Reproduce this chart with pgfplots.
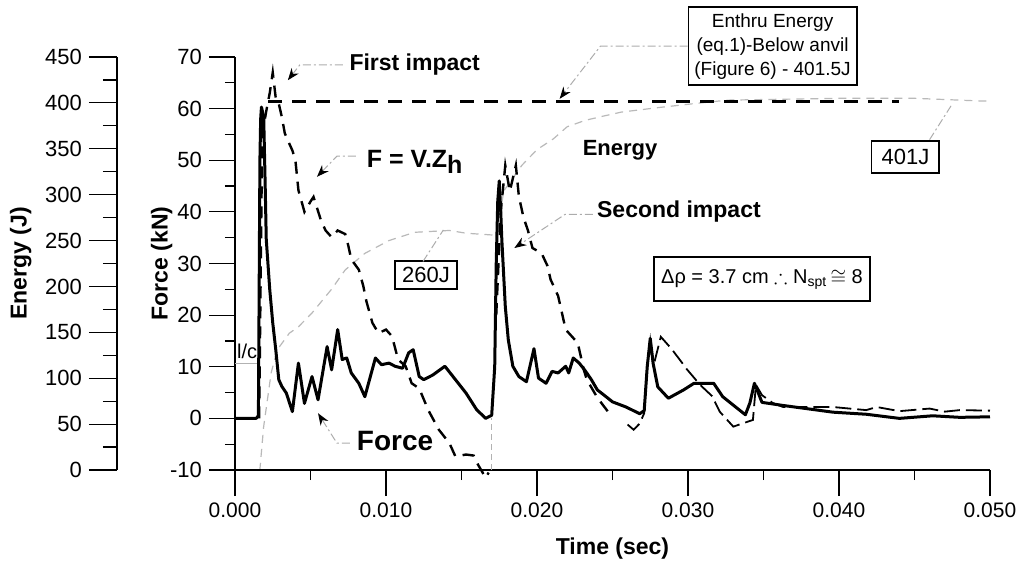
\documentclass[border=0pt]{standalone}
\usepackage{amssymb}
\usepackage{fontspec}
\setmainfont{Liberation Sans}
\usepackage{pgfplots}
\pgfplotsset{compat=1.18}
\usetikzlibrary{arrows.meta,calc}

\tikzset{
  lead/.style={gray!65, line width=0.5pt, dash pattern=on 4pt off 1.5pt on 1pt off 1.5pt},
  tip/.style={-{Stealth[length=6pt,width=4.5pt,color=black]}},
  thin gray/.style={gray!60, line width=0.5pt, dash pattern=on 3pt off 2pt},
}

\begin{document}
\begin{tikzpicture}
% energy scale, drawn on its own axis line to the left
\begin{axis}[name=energy, at={(0pt,0pt)}, anchor=south west,
 scale only axis, width=436.5pt, height=206.5pt,
 xmin=-0.00781, xmax=0.05, ymin=0, ymax=450,
 axis x line=none, axis y line=left, axis line style={-, line width=0.8pt},
 ytick={0,50,100,150,200,250,300,350,400,450}, minor y tick num=1,
 tick align=outside, major tick length=14pt, minor tick length=7pt,
 tick style={black, line width=0.6pt},
 /pgf/number format/assume math mode=true,
 yticklabel style={font=\fontsize{11}{13}\selectfont},
 ylabel={Energy (J)}, ylabel style={font=\fontsize{11.5}{13}\selectfont\bfseries},
 clip=false]
% energy from the velocity record
\addplot[gray!55, line width=0.6pt, dash pattern=on 4pt off 3pt] coordinates {
 (0.0016,0) (0.00165,0) (0.0019,47) (0.0024,106) (0.0028,131) (0.0036,149)
 (0.0042,156) (0.0051,171) (0.0064,197) (0.0073,218) (0.0086,236) (0.0102,250)
 (0.0119,259) (0.0142,261) (0.0153,258) (0.0171,256) (0.0174,262) (0.0178,304)
 (0.0190,332) (0.0200,349) (0.0211,361) (0.0220,374) (0.0232,381) (0.0245,386)
 (0.0256,390) (0.0281,395) (0.0303,399) (0.0326,403) (0.0400,405) (0.0450,405)
 (0.0495,402) (0.0500,402)};
% Enthru energy level
\addplot[black, line width=1.3pt, dash pattern=on 7pt off 5pt] coordinates {(0.0022,401.5) (0.0440,401.5)};
\end{axis}

\begin{axis}[name=force, at={(59pt,0pt)}, anchor=south west,
 scale only axis, width=377.5pt, height=206.5pt,
 xmin=0, xmax=0.05, ymin=-10, ymax=70,
 axis lines=left, axis line style={-, line width=1pt},
 xtick={0,0.01,0.02,0.03,0.04,0.05},
 xticklabels={0.000,0.010,0.020,0.030,0.040,0.050}, scaled x ticks=false,
 minor x tick num=1,
 ytick={-10,0,10,20,30,40,50,60,70}, minor y tick num=1,
 tick align=outside, major tick length=13pt, minor tick length=5pt,
 tick style={black, line width=0.6pt},
 /pgf/number format/assume math mode=true,
 xticklabel style={font=\fontsize{10.5}{12}\selectfont},
 yticklabel style={font=\fontsize{11}{13}\selectfont},
 xlabel={Time (sec)}, ylabel={Force (kN)}, ylabel shift=-8pt, xlabel shift=3pt,
 label style={font=\fontsize{11.5}{13}\selectfont\bfseries},
 clip=false]
% measured force
\addplot[black, line width=1.5pt, line join=round] coordinates {
 (0,0) (0.0014,0) (0.00155,0.5) (0.0016,25) (0.00165,50) (0.0017,58) (0.00175,60.3)
 (0.0019,58.5) (0.0020,45) (0.00207,34.7) (0.0023,25) (0.0025,18.5) (0.0027,13.3)
 (0.0029,7.5) (0.0031,6.2) (0.0034,4.9) (0.0038,1.3) (0.0042,10.7) (0.0046,2.9)
 (0.0051,8.1) (0.0055,3.6) (0.0061,13.9) (0.0064,9.4) (0.0068,17.2) (0.0071,11.4)
 (0.0074,11.7) (0.0077,8.8) (0.0082,6.8) (0.0086,4.2) (0.0093,11.7) (0.0097,10.4)
 (0.0102,10.7) (0.0106,10.1) (0.0111,9.7) (0.0115,12.7) (0.0118,13.3) (0.0122,8.1)
 (0.0125,7.5) (0.0131,8.4) (0.0139,10.1) (0.0146,7.5) (0.0153,4.9) (0.0160,1.7)
 (0.0166,0) (0.0170,0.6) (0.0172,10) (0.0173,30) (0.0174,42) (0.0175,46) (0.0176,40)
 (0.01767,34.7) (0.0179,21.7) (0.0181,15.2) (0.0184,10.1) (0.0188,8.1) (0.0193,7.1)
 (0.0198,13.5) (0.0201,7.8) (0.0206,6.8) (0.0210,9.1) (0.0214,8.8) (0.0219,10.1)
 (0.0221,8.8) (0.0224,11.7) (0.0228,10.7) (0.0232,9.2) (0.0236,7.5) (0.0240,5.5)
 (0.0244,4.6) (0.0250,3.2) (0.0259,2.2) (0.0268,0.9) (0.0271,1.5) (0.0273,10)
 (0.0275,15.5) (0.0277,10.5) (0.0280,6.1) (0.0287,3.9) (0.0297,5.5) (0.0304,6.8)
 (0.0317,6.8) (0.0323,4.2) (0.0338,0.7) (0.0341,3) (0.0344,6.8) (0.0349,3.1)
 (0.0363,2.5) (0.0396,1.2) (0.0418,0.8) (0.0440,0) (0.0462,0.5) (0.0480,0.2)
 (0.0500,0.3)};
% F = V.Zh
\addplot[black, line width=1.2pt, dash pattern=on 6pt off 4pt] coordinates {
 (0.0016,0) (0.0018,55) (0.0021,60) (0.0023,63) (0.0025,67) (0.0027,62)
 (0.00285,61.6) (0.0031,58.4) (0.0033,55.2) (0.0036,53.2) (0.0038,51.9) (0.0040,50)
 (0.0042,44.2) (0.0046,40) (0.0050,42) (0.0052,42.9) (0.0057,38.3) (0.0060,36.4)
 (0.0064,35.1) (0.0068,36.4) (0.0073,35.7) (0.0075,33.5) (0.0077,30.8) (0.0082,28.8)
 (0.0085,25.6) (0.0087,22.7) (0.0091,18.5) (0.0095,16.5) (0.0100,17.2) (0.0104,15.9)
 (0.0108,11.4) (0.0113,10.1) (0.0117,6.8) (0.0122,5.8) (0.0128,1.6) (0.0135,-2.2)
 (0.0142,-4.8) (0.0146,-7.4) (0.0153,-7) (0.0158,-7.2) (0.0161,-9) (0.0164,-10.5)
 (0.0166,-11.5) (0.0168,-10.5)};
\addplot[black, line width=1.2pt, dash pattern=on 6pt off 4pt] coordinates {
 (0.0173,20) (0.0176,40) (0.0179,49) (0.0182,44) (0.0186,49) (0.0188,43) (0.0191,39)
 (0.0194,36.4) (0.0197,33) (0.0203,32) (0.0207,29.5) (0.0209,26.9) (0.0214,23.7)
 (0.0219,17.2) (0.0227,14.6) (0.0231,9.4) (0.0233,7.5) (0.0240,4) (0.0247,1.3)};
\addplot[black, line width=0.9pt, dash pattern=on 8pt off 3pt] coordinates {
 (0.0260,-1.2) (0.0264,-2.2) (0.0268,-1) (0.0271,1) (0.0273,10) (0.0275,15)
 (0.0277,10) (0.0282,15.8) (0.0289,13.5) (0.0296,10.8) (0.0299,9.6) (0.0308,6.5)
 (0.0316,4.3) (0.0321,1.3) (0.0330,-1.6) (0.0343,-0.3) (0.0345,6.5) (0.0349,4.5)
 (0.0356,3.0) (0.0363,2.2) (0.0396,2.2) (0.0418,1.6) (0.0425,2.2) (0.0440,1.4)
 (0.0460,1.9) (0.0470,1.3) (0.0480,1.6) (0.0500,1.5)};

% markers and annotations
\draw[thin gray] (axis cs:0.0170,-10) -- (axis cs:0.0170,0);
\draw[gray!60, line width=0.5pt] (axis cs:0,10.7) -- (axis cs:0.00146,10.7);
\node[font=\fontsize{10}{12}\selectfont] at (axis cs:0.0008,12.9) {l/c};

\node[font=\fontsize{11.5}{13}\selectfont\bfseries] at (axis cs:0.0119,68.5) {First impact};
\draw[lead,tip] (axis cs:0.00715,68.5) -- (axis cs:0.0043,68.5) -- (axis cs:0.0035,65.5);

\node[font=\fontsize{12.5}{14}\selectfont\bfseries] at (axis cs:0.0119,49.7) {F = V.Z\raisebox{-0.4ex}{h}};
\draw[lead,tip] (axis cs:0.0080,50.8) -- (axis cs:0.00675,50.8) -- (axis cs:0.00543,46.8);

\node[draw, line width=0.9pt, inner xsep=3.5pt, inner ysep=3pt, font=\fontsize{11}{13}\selectfont] at (axis cs:0.01265,27.8) {260J};
\draw[lead] (axis cs:0.01245,30.4) -- (axis cs:0.0138,36.5);

\node[font=\fontsize{14}{16}\selectfont\bfseries] at (axis cs:0.0106,-4.4) {Force};
\draw[lead,tip] (axis cs:0.0076,-4.8) -- (axis cs:0.00675,-4.8) -- (axis cs:0.0055,1.0);

\node[font=\fontsize{11}{13}\selectfont\bfseries] at (axis cs:0.0255,52) {Energy};

\node[font=\fontsize{11.5}{13}\selectfont\bfseries] at (axis cs:0.0294,40) {Second impact};
\draw[lead,tip] (axis cs:0.0237,39.5) -- (axis cs:0.02185,39.5) -- (axis cs:0.0185,33);

\node[draw, line width=0.9pt, align=center, inner sep=3pt, font=\fontsize{9.5}{12}\selectfont] (enthru) at (axis cs:0.0356,72.1)
 {Enthru Energy\\(eq.1)-Below anvil\\(Figure 6) - 401.5J};
\draw[lead,tip] (enthru.west) -- (axis cs:0.0242,72.1) -- (axis cs:0.0215,61.9);

\node[draw, line width=0.9pt, inner xsep=5pt, inner ysep=4pt, font=\fontsize{11}{13}\selectfont] at (axis cs:0.0444,50.6) {401J};
\draw[lead] (axis cs:0.0460,54) -- (axis cs:0.0475,60.9);

\node[draw, line width=0.9pt, inner xsep=3.5pt, inner ysep=6pt, font=\fontsize{10}{12}\selectfont] at (axis cs:0.0349,27)
 {Δρ = 3.7 cm $\therefore$ N\textsubscript{spt}\,$\cong$ 8};
\end{axis}

\pgfresetboundingbox
\path ($(force.south west)+(-117.5pt,-51.5pt)$) rectangle ($(force.south west)+(394pt,235pt)$);
\end{tikzpicture}
\end{document}
